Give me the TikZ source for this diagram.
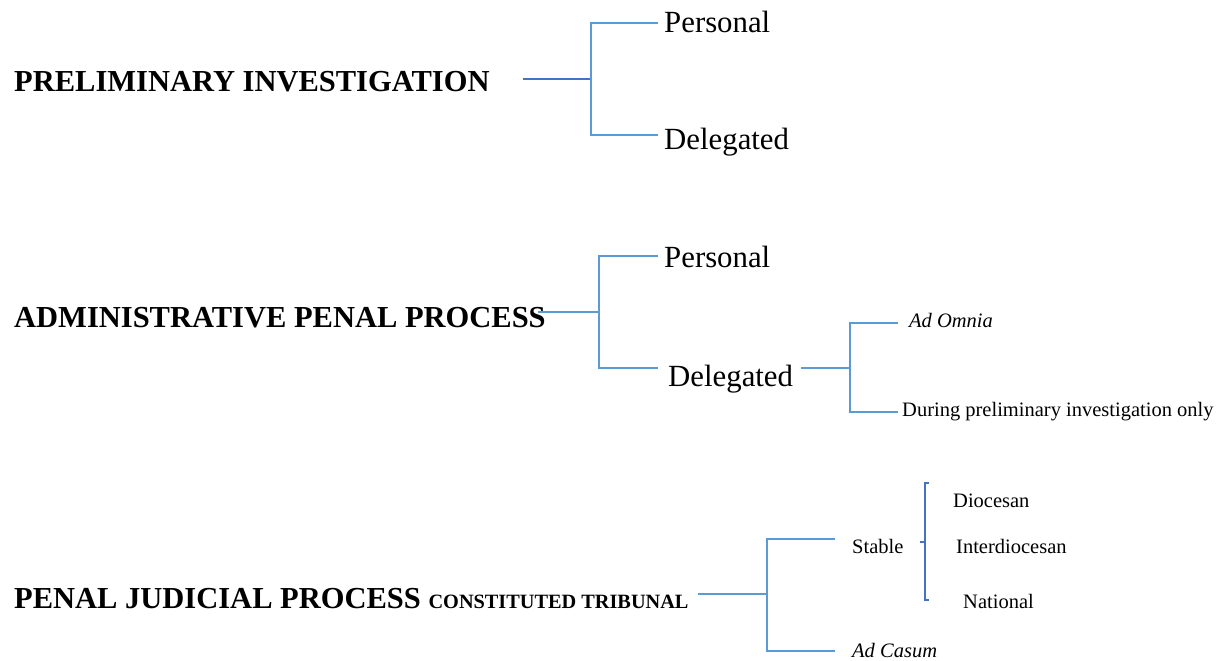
\documentclass[tikz,border=0pt]{standalone}
\usepackage{fontspec}
\setmainfont{Liberation Serif}
\usepackage{xcolor}
\usepackage{tikz}
\usetikzlibrary{calc}
\definecolor{bdark}{HTML}{4472C4}
\definecolor{blight}{HTML}{5B9BD5}
\tikzset{
  heading/.style={font=\fontsize{30.5}{36}\selectfont\bfseries, anchor=base west, inner sep=0pt},
  leaf/.style={font=\fontsize{30.8}{36}\selectfont, anchor=base west, inner sep=0pt},
  minor/.style={font=\fontsize{20.5}{24}\selectfont, anchor=base west, inner sep=0pt},
  link/.style={draw=#1, line width=1.3pt},
  trunk/.style={draw=#1, line width=2pt}
}
\begin{document}
\begin{tikzpicture}[x=1pt, y=-1pt]
  \useasboundingbox (0,0) rectangle (1223,661);
  % preliminary investigation
  \node[heading] (pi) at (14,92) {PRELIMINARY INVESTIGATION};
  \node[leaf] (pi-per) at (664,33) {Personal};
  \node[leaf] (pi-del) at (664,149) {Delegated};
  \coordinate (pi-s) at (523,79);
  \coordinate (pi-j) at (591,79);
  \coordinate (pi-a) at (658,23);
  \coordinate (pi-b) at (658,135);
  \draw[trunk=bdark] (pi-s) -- (pi-j);
  \draw[link=blight] (pi-a) -| (pi-j) |- (pi-b);
  % administrative penal process
  \node[heading] (app) at (14,327) {ADMINISTRATIVE PENAL PROCESS};
  \node[leaf] (app-per) at (664,267) {Personal};
  \node[leaf] (app-del) at (668,386) {Delegated};
  \node[minor] (app-omn) at (909,327) {\itshape Ad Omnia};
  \node[minor] (app-dur) at (902,416) {During preliminary investigation only};
  \coordinate (app-s) at (538,312);
  \coordinate (app-j) at (599,312);
  \coordinate (app-a) at (658,256);
  \coordinate (app-b) at (658,368);
  \draw[link=blight] (app-s) -- (app-j);
  \draw[link=blight] (app-a) -| (app-j) |- (app-b);
  \coordinate (del-s) at (801,368);
  \coordinate (del-j) at (850,368);
  \coordinate (del-a) at (898,323);
  \coordinate (del-b) at (898,412);
  \draw[link=blight] (del-s) -- (del-j);
  \draw[link=blight] (del-a) -| (del-j) |- (del-b);
  % penal judicial process
  \node[heading] (pjp) at (14,608) {PENAL JUDICIAL PROCESS {\fontsize{20.3}{24}\selectfont CONSTITUTED TRIBUNAL}};
  \node[minor] (pjp-sta) at (852,553) {Stable};
  \node[minor] (pjp-cas) at (852,657) {\itshape Ad Casum};
  \node[minor] (pjp-dio) at (953,507) {Diocesan};
  \node[minor] (pjp-int) at (956,553) {Interdiocesan};
  \node[minor] (pjp-nat) at (963,608) {National};
  \coordinate (pjp-s) at (698,594);
  \coordinate (pjp-j) at (767,594);
  \coordinate (pjp-a) at (835,539);
  \coordinate (pjp-b) at (835,651);
  \draw[link=blight] (pjp-s) -- (pjp-j);
  \draw[link=blight] (pjp-a) -| (pjp-j) |- (pjp-b);
  \coordinate (br-t) at (925,483);
  \coordinate (br-m) at (925,542);
  \coordinate (br-b) at (925,600);
  \draw[link=bdark] ($(br-t)+(4,0)$) -- (br-t) -- (br-b) -- ++(4,0);
  \draw[link=bdark] (br-m) -- ++(-5,0);
\end{tikzpicture}
\end{document}
